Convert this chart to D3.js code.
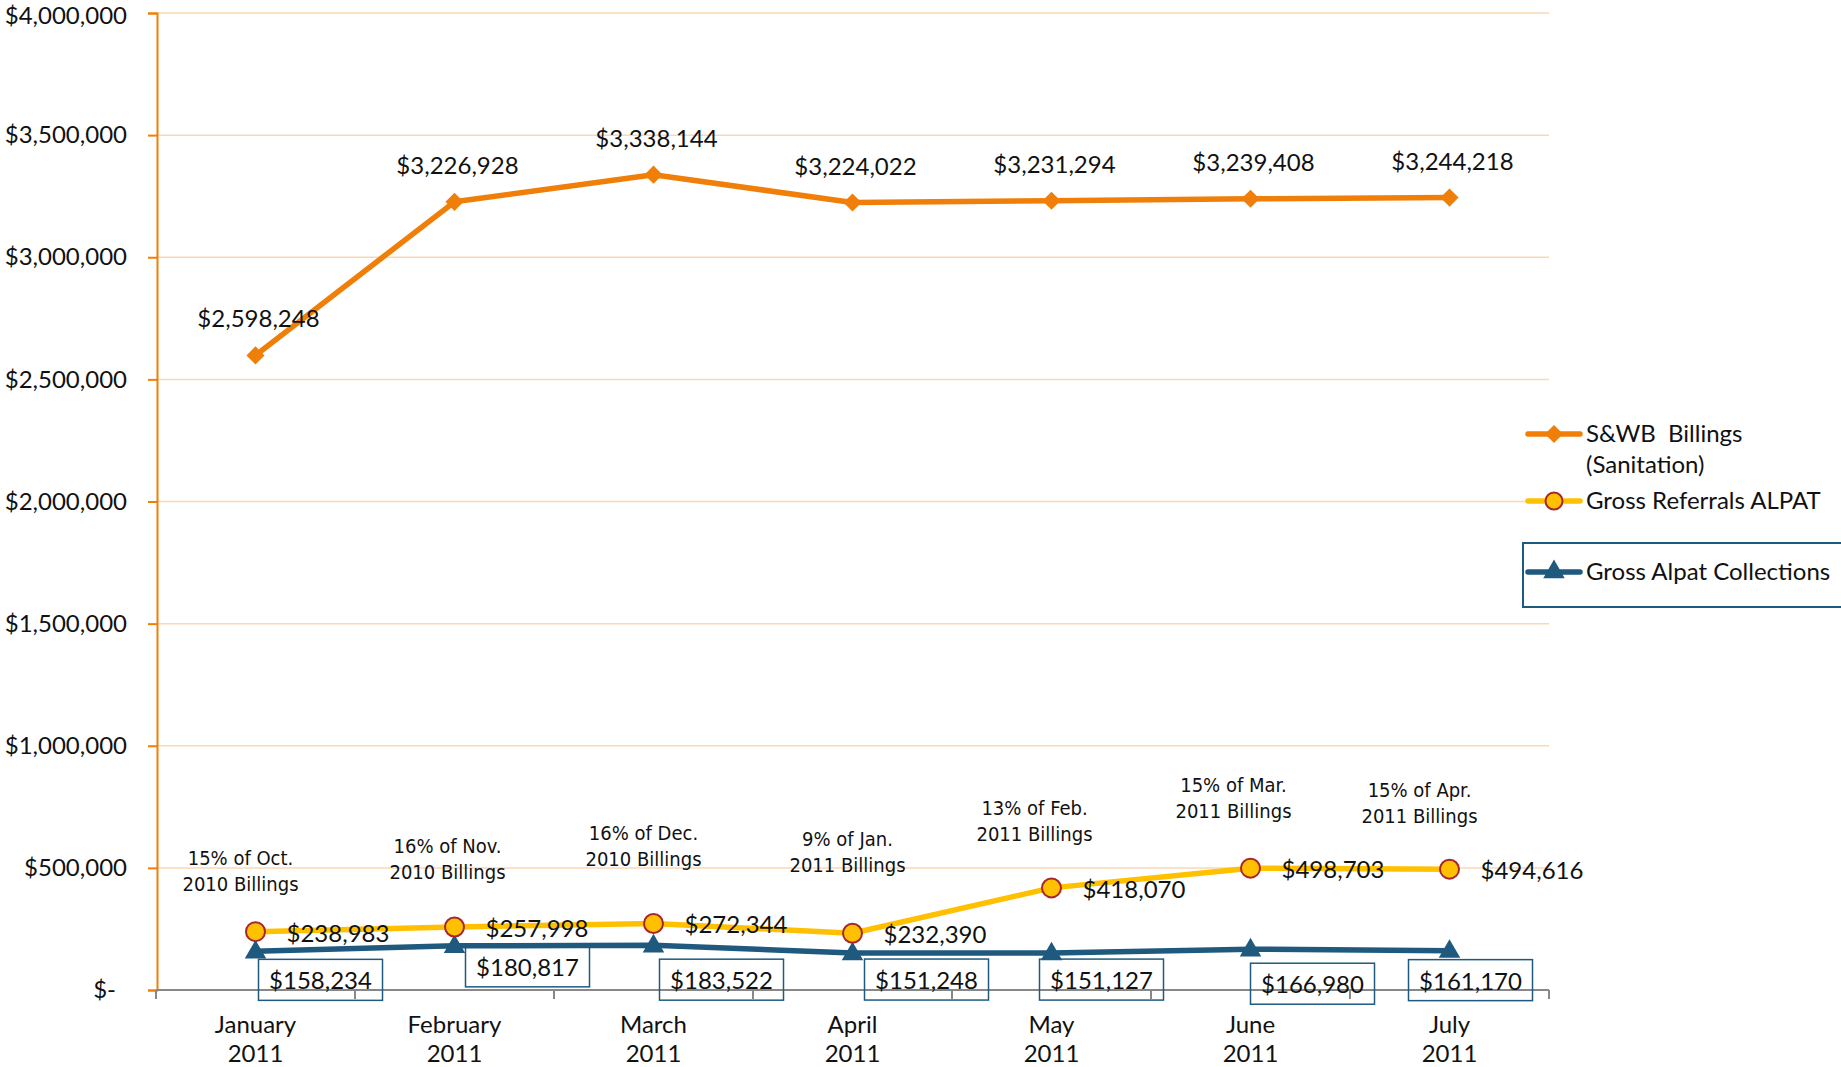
<!DOCTYPE html>
<html>
<head>
<meta charset="utf-8">
<script src="https://cdn.jsdelivr.net/npm/d3@7"></script>
<style>
  body { margin: 0; background: #fff; }
  svg { display: block; font-family: Lato, "Open Sans", sans-serif; }
  .note { font-family: "Liberation Sans Narrow", "DejaVu Sans Condensed", sans-serif; font-stretch: condensed; }
</style>
</head>
<body>
<div class="chart"></div>
<script>
const months = ["January", "February", "March", "April", "May", "June", "July"];
const yearLabel = "2011";
const swbBillings = [2598248, 3226928, 3338144, 3224022, 3231294, 3239408, 3244218];
const referrals = [238983, 257998, 272344, 232390, 418070, 498703, 494616];
const collections = [158234, 180817, 183522, 151248, 151127, 166980, 161170];
const noteTop = ["15% of Oct.", "16% of Nov.", "16% of Dec.", "9% of Jan.", "13% of Feb.", "15% of Mar.", "15% of Apr."];
const noteBottom = ["2010 Billings", "2010 Billings", "2010 Billings", "2011 Billings", "2011 Billings", "2011 Billings", "2011 Billings"];
const yTicks = [0, 500000, 1000000, 1500000, 2000000, 2500000, 3000000, 3500000, 4000000];
const seriesNames = ["S&WB  Billings", "Gross Referrals ALPAT", "Gross Alpat Collections"];

// hand placed label offsets (like in the original sheet)
const noteNudge = [[-15, -74], [-7, -81], [-10, -90], [-5, -94], [-17, -80], [-17, -83], [-30, -79]];
const boxNudge = [[3, 8], [11, 0], [6, 14], [12, 6], [-12, 6], [0, 14], [-41, 9]];

const width = 1841;
const height = 1067;
const orange = "#F07F09";
const yellow = "#FFC000";
const blue = "#1F5A7E";
const fs = 24;

const svg = d3.select(".chart").append("svg")
  .attr("width", width)
  .attr("height", height);

const x = d3.scaleBand().domain(months).range([156, 1549]);
const cx = (i) => x(months[i]) + x.bandwidth() / 2;
const y = d3.scaleLinear().domain([0, 4000000]).range([990, 13]);

// gridlines
svg.append("g")
  .selectAll("line")
  .data(yTicks.slice(1))
  .join("line")
  .attr("x1", 156)
  .attr("x2", 1549)
  .attr("y1", (d) => y(d))
  .attr("y2", (d) => y(d))
  .attr("stroke", "#FBD7B5")
  .attr("stroke-width", 1.5);

// y axis
const yAxis = d3.axisLeft(y)
  .tickValues(yTicks)
  .tickSize(9)
  .tickPadding(21)
  .tickFormat((d) => (d === 0 ? "$-" : "$" + d3.format(",")(d)));

const yg = svg.append("g")
  .attr("transform", "translate(157,0)")
  .call(yAxis);
yg.select(".domain").attr("stroke", orange).attr("stroke-width", 2);
yg.selectAll(".tick line").attr("stroke", orange).attr("stroke-width", 2);
yg.selectAll(".tick text")
  .attr("font-size", fs)
  .attr("fill", "#111")
  .attr("font-family", "Lato, sans-serif")
  .attr("dx", (d) => (d === 0 ? -11 : 0))
  .attr("dy", (d) => (d === 4000000 ? "0.42em" : "0.32em"));

// x axis
const xg = svg.append("g");
xg.append("line")
  .attr("x1", 156).attr("x2", 1549)
  .attr("y1", y(0)).attr("y2", y(0))
  .attr("stroke", "#888").attr("stroke-width", 2);
xg.selectAll(".xtick")
  .data(d3.range(months.length + 1))
  .join("line")
  .attr("class", "xtick")
  .attr("x1", (i) => 156 + i * x.bandwidth())
  .attr("x2", (i) => 156 + i * x.bandwidth())
  .attr("y1", y(0))
  .attr("y2", y(0) + 9)
  .attr("stroke", "#888").attr("stroke-width", 2);

const xl = xg.selectAll(".xlab")
  .data(months)
  .join("text")
  .attr("class", "xlab")
  .attr("x", (d, i) => cx(i))
  .attr("text-anchor", "middle")
  .attr("font-size", fs)
  .attr("fill", "#111");
xl.append("tspan").attr("x", (d, i) => cx(i)).attr("y", 1033).text((d) => d);
xl.append("tspan").attr("x", (d, i) => cx(i)).attr("y", 1062).text(yearLabel);

const line = d3.line().x((d, i) => cx(i)).y((d) => y(d));

[[swbBillings, orange], [referrals, yellow], [collections, blue]].forEach(([vals, col]) => {
  svg.append("path")
    .datum(vals)
    .attr("d", line)
    .attr("fill", "none")
    .attr("stroke", col)
    .attr("stroke-width", 5.5)
    .attr("stroke-linejoin", "round");
});

const diamond = d3.symbol().type(d3.symbolDiamond2).size(210);
const triangle = d3.symbol().type(d3.symbolTriangle).size(200);

svg.append("g")
  .selectAll("path")
  .data(swbBillings)
  .join("path")
  .attr("d", diamond)
  .attr("transform", (d, i) => `translate(${cx(i)},${y(d)})`)
  .attr("fill", orange);

svg.append("g")
  .selectAll("path")
  .data(collections)
  .join("path")
  .attr("d", triangle)
  .attr("transform", (d, i) => `translate(${cx(i)},${y(d) + 1})`)
  .attr("fill", blue);

svg.append("g")
  .selectAll("circle")
  .data(referrals)
  .join("circle")
  .attr("cx", (d, i) => cx(i))
  .attr("cy", (d) => y(d))
  .attr("r", 9.5)
  .attr("fill", yellow)
  .attr("stroke", "#A8262B")
  .attr("stroke-width", 2);

const money = (d) => "$" + d3.format(",")(d);

// S&WB labels
svg.append("g")
  .selectAll("text")
  .data(swbBillings)
  .join("text")
  .attr("x", (d, i) => cx(i) + 3)
  .attr("y", (d) => y(d) - 28)
  .attr("text-anchor", "middle")
  .attr("font-size", fs)
  .attr("fill", "#111")
  .text(money);

// referral labels
svg.append("g")
  .selectAll("text")
  .data(referrals)
  .join("text")
  .attr("x", (d, i) => cx(i) + 31)
  .attr("y", (d) => y(d) + 10)
  .attr("font-size", fs)
  .attr("fill", "#111")
  .text(money);

// notes
const notes = svg.append("g")
  .selectAll("text")
  .data(referrals)
  .join("text")
  .attr("class", "note")
  .attr("text-anchor", "middle")
  .attr("font-size", 20)
  .attr("fill", "#111");
notes.append("tspan")
  .attr("x", (d, i) => cx(i) + noteNudge[i][0])
  .attr("y", (d, i) => y(d) + noteNudge[i][1] + 7)
  .text((d, i) => noteTop[i]);
notes.append("tspan")
  .attr("x", (d, i) => cx(i) + noteNudge[i][0])
  .attr("y", (d, i) => y(d) + noteNudge[i][1] + 33)
  .text((d, i) => noteBottom[i]);

// collection labels in boxes
const boxes = svg.append("g")
  .selectAll("g")
  .data(collections)
  .join("g")
  .attr("transform", (d, i) => `translate(${cx(i) + boxNudge[i][0]},${y(d) + boxNudge[i][1]})`);
boxes.append("rect")
  .attr("width", 124)
  .attr("height", 41)
  .attr("fill", "none")
  .attr("stroke", blue)
  .attr("stroke-width", 1.5);
boxes.append("text")
  .attr("x", 62)
  .attr("y", 30)
  .attr("text-anchor", "middle")
  .attr("font-size", fs)
  .attr("fill", "#111")
  .text(money);

// legend
const legend = svg.append("g").attr("id", "legend");
legend.append("rect")
  .attr("x", 1523).attr("y", 543)
  .attr("width", 340).attr("height", 64)
  .attr("fill", "#fff")
  .attr("stroke", blue)
  .attr("stroke-width", 2);

const legendRows = [
  { y: 434, color: orange, mark: "diamond" },
  { y: 501, color: yellow, mark: "circle" },
  { y: 572, color: blue, mark: "triangle" },
];
legendRows.forEach((r, i) => {
  legend.append("line")
    .attr("x1", 1528).attr("x2", 1580)
    .attr("y1", r.y).attr("y2", r.y)
    .attr("stroke", r.color)
    .attr("stroke-width", 5.5)
    .attr("stroke-linecap", "round");
  if (r.mark === "circle") {
    legend.append("circle")
      .attr("cx", 1554).attr("cy", r.y).attr("r", 8.5)
      .attr("fill", yellow).attr("stroke", "#A8262B").attr("stroke-width", 2);
  } else {
    legend.append("path")
      .attr("d", r.mark === "diamond" ? diamond : triangle)
      .attr("transform", `translate(1554,${r.y})`)
      .attr("fill", r.color);
  }
  legend.append("text")
    .attr("x", 1586)
    .attr("y", r.y + 8)
    .attr("font-size", fs)
    .attr("fill", "#111")
    .attr("xml:space", "preserve")
    .text(seriesNames[i]);
});
legend.append("text")
  .attr("x", 1586)
  .attr("y", 473)
  .attr("font-size", fs)
  .attr("fill", "#111")
  .text("(Sanitation)");
</script>
</body>
</html>
